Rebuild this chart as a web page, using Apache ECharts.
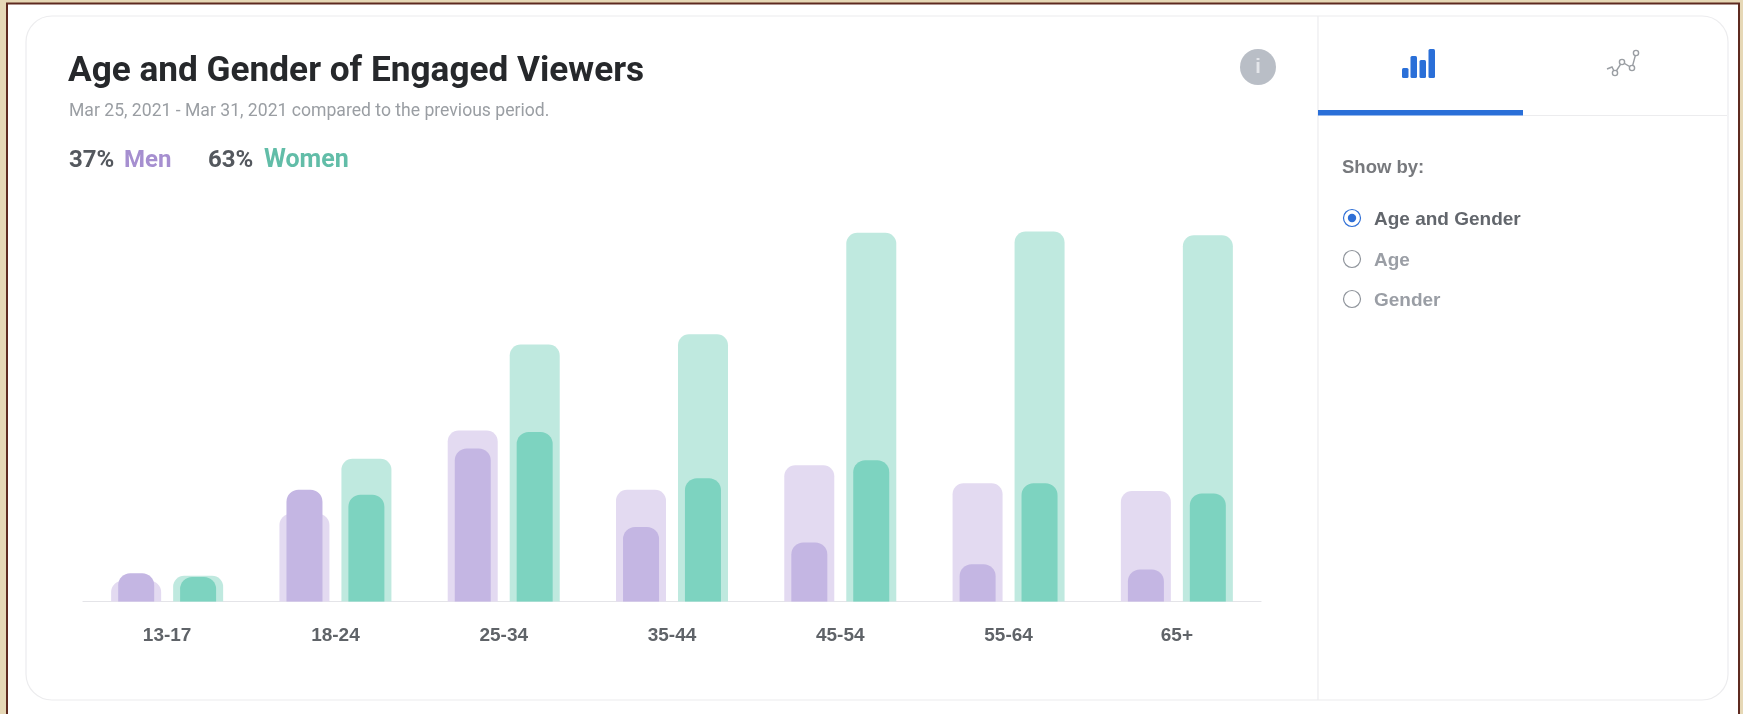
<!DOCTYPE html>
<html><head><meta charset="utf-8">
<style>html,body{margin:0;padding:0;background:#fff}#c{width:1743px;height:714px}</style>
<script src="https://cdn.jsdelivr.net/npm/echarts@6/dist/echarts.min.js"></script>
</head><body><div id="c"></div>
<script>
const categories = ['13-17','18-24','25-34','35-44','45-54','55-64','65+'];
const menPrevious   = [1.6, 6.8, 13.3, 8.7, 10.6, 9.2, 8.6];
const womenPrevious = [2.0, 11.1, 20.0, 20.8, 28.7, 28.8, 28.5];
const menCurrent    = [2.2, 8.7, 11.9, 5.8, 4.6, 2.9, 2.5];
const womenCurrent  = [1.9, 8.3, 13.2, 9.6, 11.0, 9.2, 8.4];

const FONT = 'Roboto, sans-serif', ARIAL = '"Liberation Sans", Arial, sans-serif';
const txt = (x,y,text,size,weight,fill,font) => ({type:'text',x,y,silent:true,
  style:{text,fontSize:size,fontWeight:weight,fill,fontFamily:font||ARIAL,textVerticalAlign:'middle'}});
const rect = (x,y,w,h,fill,r) => ({type:'rect',silent:true,shape:{x,y,width:w,height:h,r:r||0},style:{fill}});
const radio = (cx,cy,on) => ({type:'group',silent:true,children:[
  {type:'circle',shape:{cx,cy,r:8.5},style:{fill:'#fff',stroke:on?'#2f6fd6':'#8f949b',lineWidth:1.2}},
  ...(on?[{type:'circle',shape:{cx,cy,r:4.2},style:{fill:'#2f6fd6'}}]:[])]});
const node = (cx,cy) => ({type:'circle',silent:true,shape:{cx,cy,r:2.6},style:{fill:'#fff',stroke:'#9a9ea3',lineWidth:1.4}});

const graphic = [
  // frame
  rect(0,0,1743,714,'#e6d8b6'),
  {type:'rect',silent:true,shape:{x:7,y:3.5,width:1732,height:730},style:{fill:'#fff',stroke:'#5e2a20',lineWidth:2}},
  {type:'rect',silent:true,shape:{x:26,y:16,width:1702,height:684,r:26},style:{fill:'#fff',stroke:'#ececee',lineWidth:1.2}},
  {type:'line',silent:true,shape:{x1:1318,y1:16,x2:1318,y2:700},style:{stroke:'#ececee',lineWidth:1.2}},
  {type:'line',silent:true,shape:{x1:1523,y1:115.5,x2:1727,y2:115.5},style:{stroke:'#ececee',lineWidth:1.2}},
  rect(1318,110,205,5.5,'#2a6fd8'),
  // header
  txt(68,72,'Age and Gender of Engaged Viewers',35.2,700,'#26282b',FONT),
  txt(69,112,'Mar 25, 2021 - Mar 31, 2021 compared to the previous period.',17.6,400,'#9a9ea3',FONT),
  txt(69,161,'37%',24,700,'#54585e',FONT),
  txt(124,161,'Men',24,700,'#a68fd0',FONT),
  txt(208,161,'63%',24,700,'#54585e',FONT),
  txt(264,161,'Women',25,700,'#62bda8',FONT),
  // info icon
  {type:'circle',silent:true,shape:{cx:1258,cy:67,r:18},style:{fill:'#b9bec6'}},
  {type:'text',silent:true,x:1258,y:67,style:{text:'i',fontSize:20,fontWeight:700,fill:'#e4e6ea',fontFamily:ARIAL,textAlign:'center',textVerticalAlign:'middle'}},
  // tab icons
  rect(1402,68,6.5,10,'#2a6fd8',1.5),
  rect(1410.5,56,6.5,22,'#2a6fd8',1.5),
  rect(1419.5,60,6.5,18,'#2a6fd8',1.5),
  rect(1428.5,49,6.5,29,'#2a6fd8',1.5),
  {type:'polyline',silent:true,shape:{points:[[1607,69],[1612,67],[1615,73],[1622,62],[1632,68],[1636,53]]},style:{stroke:'#9a9ea3',fill:'none',lineWidth:1.4}},
  node(1615,73),node(1622,62),node(1632,68),node(1636,53),
  // side panel
  txt(1342,168,'Show by:',18.5,700,'#77797d',ARIAL),
  radio(1352,218,true),  txt(1374,220,'Age and Gender',19,700,'#62666c',ARIAL),
  radio(1352,259,false), txt(1374,261,'Age',19,700,'#9a9ea5',ARIAL),
  radio(1352,299,false), txt(1374,301,'Gender',19,700,'#9a9ea5',ARIAL)
].map(g=>({...g,z:-10,zlevel:0}));

const xBase = {type:'category',data:categories,axisTick:{show:false}};
const chart = echarts.init(document.getElementById('c'));
chart.setOption({
  animation:false,
  backgroundColor:'transparent',
  graphic:{elements:graphic},
  grid:{left:83,right:482,top:216,bottom:112.5,containLabel:false},
  xAxis:[
    {...xBase,axisLine:{lineStyle:{color:'#e4e4e8',width:1.2}},
     axisLabel:{color:'#5f6368',fontSize:19,fontWeight:700,fontFamily:ARIAL,margin:25}},
    {...xBase,axisLine:{show:false},axisLabel:{show:false}}
  ],
  yAxis:{type:'value',min:0,max:30,show:false,splitLine:{show:false}},
  series:[
    {name:'Men (previous)',type:'bar',xAxisIndex:1,data:menPrevious,barWidth:50,barGap:'24%',z:2,itemStyle:{color:'#e3daf1',borderRadius:[11,11,0,0]}},
    {name:'Women (previous)',type:'bar',xAxisIndex:1,data:womenPrevious,barWidth:50,barGap:'24%',z:2,itemStyle:{color:'#bfe9df',borderRadius:[11,11,0,0]}},
    {name:'Men',type:'bar',xAxisIndex:0,data:menCurrent,barWidth:36,barGap:'72%',z:3,itemStyle:{color:'#c4b6e3',borderRadius:[12,12,0,0]}},
    {name:'Women',type:'bar',xAxisIndex:0,data:womenCurrent,barWidth:36,barGap:'72%',z:3,itemStyle:{color:'#7dd3c0',borderRadius:[12,12,0,0]}}
  ]
});
</script></body></html>
